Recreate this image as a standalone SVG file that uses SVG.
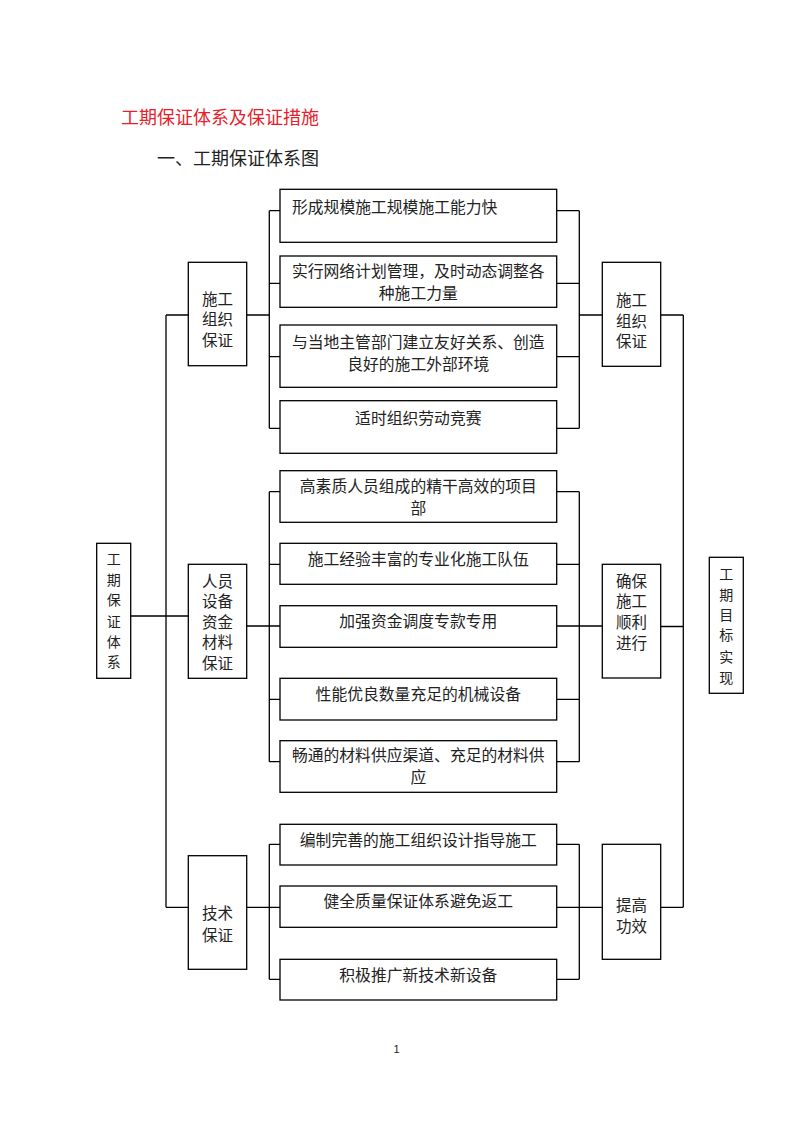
<svg xmlns="http://www.w3.org/2000/svg" width="793" height="1122" viewBox="0 0 793 1122">
<style>
.box{fill:#fff;stroke:#000;stroke-width:1.3}
.ln{fill:none;stroke:#000;stroke-width:1.3}
text{font-family:"Noto Sans CJK SC","Liberation Serif",serif;fill:#222}
.t{font-size:15.8px;text-anchor:middle}
.v{font-size:15.5px;text-anchor:middle}
.s{font-size:14px;text-anchor:middle}
.h{font-size:18px}
</style>
<rect width="793" height="1122" fill="#fff"/>
<text class="h" x="121" y="124" style="fill:#e8202a">工期保证体系及保证措施</text>
<text class="h" x="157" y="165">一、工期保证体系图</text>

<g id="connectors">
<path class="ln" d="M166,315V907.3M166,315H188.3M130.7,616H188.3M166,907.3H188.3"/>
<path class="ln" d="M246.7,315H269.3M269.3,210.7V428.3M269.3,210.7H280M269.3,283.3H280M269.3,356.7H280M269.3,428.3H280"/>
<path class="ln" d="M556.7,210.7H579.3M556.7,283.3H579.3M556.7,356.7H579.3M556.7,428.3H579.3M579.3,210.7V428.3M579.3,315H602.3"/>
<path class="ln" d="M246.7,626H280M269.3,491.7V761.7M269.3,491.7H280M269.3,564.3H280M269.3,699.3H280M269.3,761.7H280"/>
<path class="ln" d="M556.7,491.7H579.3M556.7,564.3H579.3M556.7,626H602.3M556.7,699.3H579.3M556.7,761.7H579.3M579.3,491.7V761.7"/>
<path class="ln" d="M246.7,907.3H280M269.3,844.3V979.3M269.3,844.3H280M269.3,979.3H280"/>
<path class="ln" d="M556.7,844.3H579.3M556.7,907.3H602.3M556.7,979.3H579.3M579.3,844.3V979.3"/>
<path class="ln" d="M660.7,315H683.3M683.3,315V907.3M660.7,626.5H683.3M660.7,907.3H683.3"/>
</g>

<g id="root">
<rect class="box" x="96.7" y="543.3" width="34" height="135"/>
<text class="s" x="113.7" y="564">工</text><text class="s" x="113.7" y="585">期</text><text class="s" x="113.7" y="605">保</text><text class="s" x="113.7" y="626.5">证</text><text class="s" x="113.7" y="646.5">体</text><text class="s" x="113.7" y="666.5">系</text>
</g>

<g id="org">
<rect class="box" x="188.3" y="262.3" width="58.4" height="103.4"/>
<text class="v" x="217.5" y="304.5">施工</text><text class="v" x="217.5" y="325">组织</text><text class="v" x="217.5" y="345.5">保证</text>
</g>
<g id="res">
<rect class="box" x="188.3" y="564.3" width="58.4" height="114"/>
<text class="v" x="217.5" y="586.5">人员</text><text class="v" x="217.5" y="607">设备</text><text class="v" x="217.5" y="627.5">资金</text><text class="v" x="217.5" y="648">材料</text><text class="v" x="217.5" y="669">保证</text>
</g>
<g id="tech">
<rect class="box" x="188.3" y="855.7" width="58.4" height="113.6"/>
<text class="v" x="217.5" y="918.5">技术</text><text class="v" x="217.5" y="940.5">保证</text>
</g>

<g id="a1"><rect class="box" x="280" y="189.3" width="276.7" height="53"/><text class="t" x="292" y="212.5" style="text-anchor:start">形成规模施工规模施工能力快</text></g>
<g id="a2"><rect class="box" x="280" y="256" width="276.7" height="51.3"/><text class="t" x="418.3" y="277">实行网络计划管理，及时动态调整各</text><text class="t" x="418.3" y="299">种施工力量</text></g>
<g id="a3"><rect class="box" x="280" y="325" width="276.7" height="62.3"/><text class="t" x="418.3" y="348">与当地主管部门建立友好关系、创造</text><text class="t" x="418.3" y="370">良好的施工外部环境</text></g>
<g id="a4"><rect class="box" x="280" y="400.7" width="276.7" height="52.6"/><text class="t" x="418.3" y="423.5">适时组织劳动竞赛</text></g>

<g id="b1"><rect class="box" x="280" y="470.7" width="276.7" height="51.6"/><text class="t" x="418.3" y="491.5">高素质人员组成的精干高效的项目</text><text class="t" x="418.3" y="513.5">部</text></g>
<g id="b2"><rect class="box" x="280" y="543.3" width="276.7" height="41"/><text class="t" x="418.3" y="565">施工经验丰富的专业化施工队伍</text></g>
<g id="b3"><rect class="box" x="280" y="605.7" width="276.7" height="41.6"/><text class="t" x="418.3" y="627">加强资金调度专款专用</text></g>
<g id="b4"><rect class="box" x="280" y="678.3" width="276.7" height="41.7"/><text class="t" x="418.3" y="699.5">性能优良数量充足的机械设备</text></g>
<g id="b5"><rect class="box" x="280" y="740.7" width="276.7" height="51.6"/><text class="t" x="418.3" y="761">畅通的材料供应渠道、充足的材料供</text><text class="t" x="418.3" y="783">应</text></g>

<g id="c1"><rect class="box" x="280" y="824.3" width="276.7" height="40.7"/><text class="t" x="418.3" y="845.5">编制完善的施工组织设计指导施工</text></g>
<g id="c2"><rect class="box" x="280" y="886" width="276.7" height="41.3"/><text class="t" x="418.3" y="907">健全质量保证体系避免返工</text></g>
<g id="c3"><rect class="box" x="280" y="959.3" width="276.7" height="40.7"/><text class="t" x="418.3" y="980.5">积极推广新技术新设备</text></g>

<g id="r1"><rect class="box" x="602.3" y="262.3" width="58.4" height="104"/><text class="v" x="631.5" y="306">施工</text><text class="v" x="631.5" y="326.5">组织</text><text class="v" x="631.5" y="347">保证</text></g>
<g id="r2"><rect class="box" x="602.3" y="564.3" width="58.4" height="113.7"/><text class="v" x="631.5" y="587">确保</text><text class="v" x="631.5" y="607">施工</text><text class="v" x="631.5" y="627.5">顺利</text><text class="v" x="631.5" y="648.5">进行</text></g>
<g id="r3"><rect class="box" x="602.3" y="844.3" width="58.4" height="115"/><text class="v" x="631.5" y="910.5">提高</text><text class="v" x="631.5" y="932">功效</text></g>

<g id="goal">
<rect class="box" x="709.3" y="557.3" width="34" height="136"/>
<text class="s" x="726.3" y="579">工</text><text class="s" x="726.3" y="600">期</text><text class="s" x="726.3" y="620">目</text><text class="s" x="726.3" y="640">标</text><text class="s" x="726.3" y="661.5">实</text><text class="s" x="726.3" y="683">现</text>
</g>

<text x="396.5" y="1053" style="font-family:'Liberation Sans',sans-serif;font-size:11px;text-anchor:middle">1</text>
</svg>
